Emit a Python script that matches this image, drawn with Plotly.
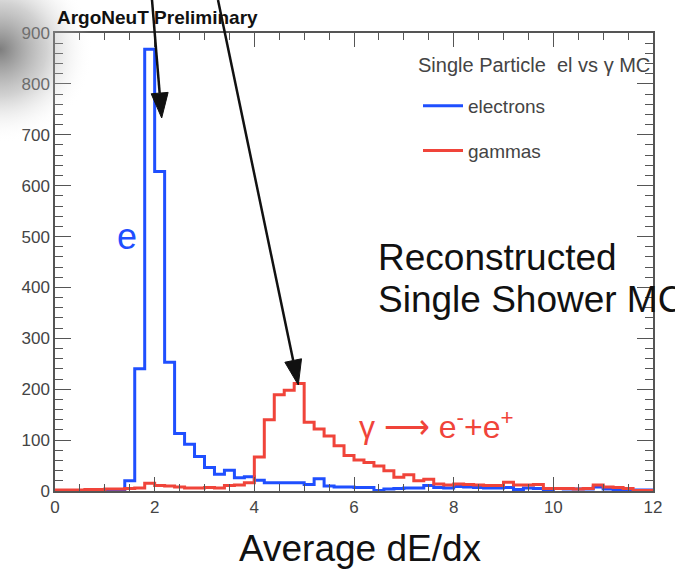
import base64
import numpy as np
import plotly.graph_objects as go

# ---------------- data ----------------
bin_width = 0.2
bin_edges = [round(i * bin_width, 1) for i in range(61)]  # 0 .. 12

electrons = [0, 0, 1, 1, 2, 3, 3, 20, 240, 868,
             628, 253, 113, 92, 68, 46, 33, 41, 26, 28,
             21, 16, 16, 16, 16, 13, 24, 10, 8, 8,
             7, 7, 1, 4, 5, 6, 6, 11, 7, 6,
             9, 8, 7, 6, 6, 7, 3, 6, 5, 3,
             5, 4, 4, 4, 8, 4, 3, 2, 2, 2]

gammas = [2, 2, 2, 3, 3, 4, 4, 5, 6, 15,
          11, 10, 8, 6, 6, 7, 6, 11, 12, 16,
          67, 140, 189, 198, 211, 135, 122, 108, 89, 70,
          61, 56, 49, 40, 27, 32, 20, 23, 14, 12,
          14, 13, 12, 11, 11, 17, 12, 12, 13, 5,
          5, 5, 4, 5, 12, 8, 7, 5, 1, 1]

x_ticks = [0, 2, 4, 6, 8, 10, 12]
y_ticks = [0, 100, 200, 300, 400, 500, 600, 700, 800, 900]

BLUE = "#1f4fff"
RED = "#f0443a"
FONT = "Liberation Sans, Arial, Helvetica, sans-serif"

# plot area geometry (pixels) used for decorations in paper coords
W, H = 675, 572
L, R, T, B = 55, 22, 33, 81
PW, PH = W - L - R, H - T - B


def px2paper(px, py):
    return (px - L) / PW, (H - B - py) / PH


def step_xy(counts):
    xs = list(bin_edges)
    ys = list(counts) + [counts[-1]]
    return xs, ys


fig = go.Figure()
for name, counts, col, grp in [("electrons", electrons, BLUE, "g1"),
                               ("gammas", gammas, RED, "g2")]:
    xs, ys = step_xy(counts)
    fig.add_trace(go.Scatter(x=xs, y=ys, mode="lines", line_shape="hv",
                             line=dict(color=col, width=3), name=name,
                             legendgroup=grp, cliponaxis=True))

axis_common = dict(showline=True, linecolor="#555", linewidth=1.5, mirror="allticks",
                   ticks="inside", tickcolor="#555", showgrid=False, zeroline=False,
                   tickfont=dict(family=FONT, size=17, color="#444"))

fig.update_xaxes(range=[0, 12], tickvals=x_ticks, ticklen=14, tickwidth=1.3,
                 minor=dict(ticks="inside", dtick=0.5, ticklen=7, tickcolor="#555", tickwidth=1.2),
                 **axis_common)
fig.update_yaxes(range=[0, 900], tickvals=y_ticks, ticklen=16, tickwidth=1.3,
                 minor=dict(ticks="inside", dtick=20, ticklen=8, tickcolor="#555", tickwidth=1.2),
                 **axis_common)

annotations = [
    dict(text="<b>ArgoNeuT Preliminary</b>", xref="paper", yref="paper", x=0, y=1,
         xanchor="left", yanchor="bottom", yshift=3, showarrow=False,
         font=dict(family=FONT, size=19, color="#111")),
    dict(text="Average dE/dx", xref="paper", yref="paper", x=(360 - L) / PW, y=px2paper(0, 548)[1],
         xanchor="center", yanchor="middle", showarrow=False,
         font=dict(family=FONT, size=37, color="#111")),
    dict(text="e", xref="x", yref="y", x=1.45, y=500, showarrow=False,
         font=dict(family=FONT, size=36, color=BLUE)),
    dict(text="Reconstructed", xref="paper", yref="paper", x=px2paper(376, 0)[0], y=px2paper(0, 257)[1],
         xanchor="left", yanchor="middle", showarrow=False,
         font=dict(family=FONT, size=37, color="#111")),
    dict(text="Single Shower MC", xref="paper", yref="paper", x=px2paper(376, 0)[0], y=px2paper(0, 299)[1],
         xanchor="left", yanchor="middle", showarrow=False,
         font=dict(family=FONT, size=37, color="#111")),
    dict(text="γ ⟶ e<sup>-</sup>+e<sup>+</sup>", xref="paper", yref="paper",
         x=px2paper(357, 0)[0], y=px2paper(0, 425)[1],
         xanchor="left", yanchor="middle", showarrow=False,
         font=dict(family=FONT, size=32, color=RED)),
    # legend header
    dict(text="Single Particle  el vs γ MC", xref="paper", yref="paper",
         x=px2paper(416, 0)[0], y=px2paper(0, 65)[1],
         xanchor="left", yanchor="middle", showarrow=False,
         font=dict(family=FONT, size=20, color="#444")),
]

# arrows (tail -> tip, pixel coords)
shapes = []
for (tx, ty), (hx, hy) in [((152, 0), (161.7, 118)), ((218, 0), (298.3, 385))]:
    d = np.array([hx - tx, hy - ty], float)
    d /= np.linalg.norm(d)
    p = np.array([d[1], -d[0]])
    base = np.array([hx, hy]) - 25 * d
    c1 = base + 8.5 * p
    c2 = base - 8.5 * p
    a = px2paper(tx, ty)
    b = px2paper(*base)
    shapes.append(dict(type="line", xref="paper", yref="paper", x0=a[0], y0=a[1], x1=b[0], y1=b[1],
                       line=dict(color="#111", width=2.5)))
    pts = [px2paper(hx, hy), px2paper(*c1), px2paper(*c2)]
    path = "M {} {} L {} {} L {} {} Z".format(*[v for pt in pts for v in pt])
    shapes.append(dict(type="path", xref="paper", yref="paper", path=path,
                       fillcolor="#111", line=dict(color="#111", width=1)))

# photo vignette at top-left corner
svg = ('<svg xmlns="http://www.w3.org/2000/svg" width="150" height="150">'
       '<defs><radialGradient id="g" cx="0" cy="0.33" r="0.62" gradientUnits="objectBoundingBox">'
       '<stop offset="0" stop-color="#6f6f6f" stop-opacity="0.9"/>'
       '<stop offset="0.5" stop-color="#9a9a9a" stop-opacity="0.45"/>'
       '<stop offset="1" stop-color="#ffffff" stop-opacity="0"/></radialGradient></defs>'
       '<rect width="150" height="150" fill="url(#g)"/></svg>')
src = "data:image/svg+xml;base64," + base64.b64encode(svg.encode()).decode()
x0p, y0p = px2paper(0, 0)
images = [dict(source=src, xref="paper", yref="paper", x=x0p, y=y0p, sizex=150 / PW, sizey=150 / PH,
               xanchor="left", yanchor="top", sizing="stretch", layer="above", opacity=1)]

lx, ly = px2paper(418, 87)
fig.update_layout(
    width=W, height=H,
    margin=dict(l=L, r=R, t=T, b=B),
    paper_bgcolor="white", plot_bgcolor="white",
    font=dict(family=FONT),
    annotations=annotations, shapes=shapes, images=images,
    legend=dict(x=lx, y=ly, xanchor="left", yanchor="top", bgcolor="rgba(0,0,0,0)",
                traceorder="grouped", tracegroupgap=17,
                font=dict(family=FONT, size=19, color="#444"), itemwidth=40),
)

fig.write_html("out.html")
